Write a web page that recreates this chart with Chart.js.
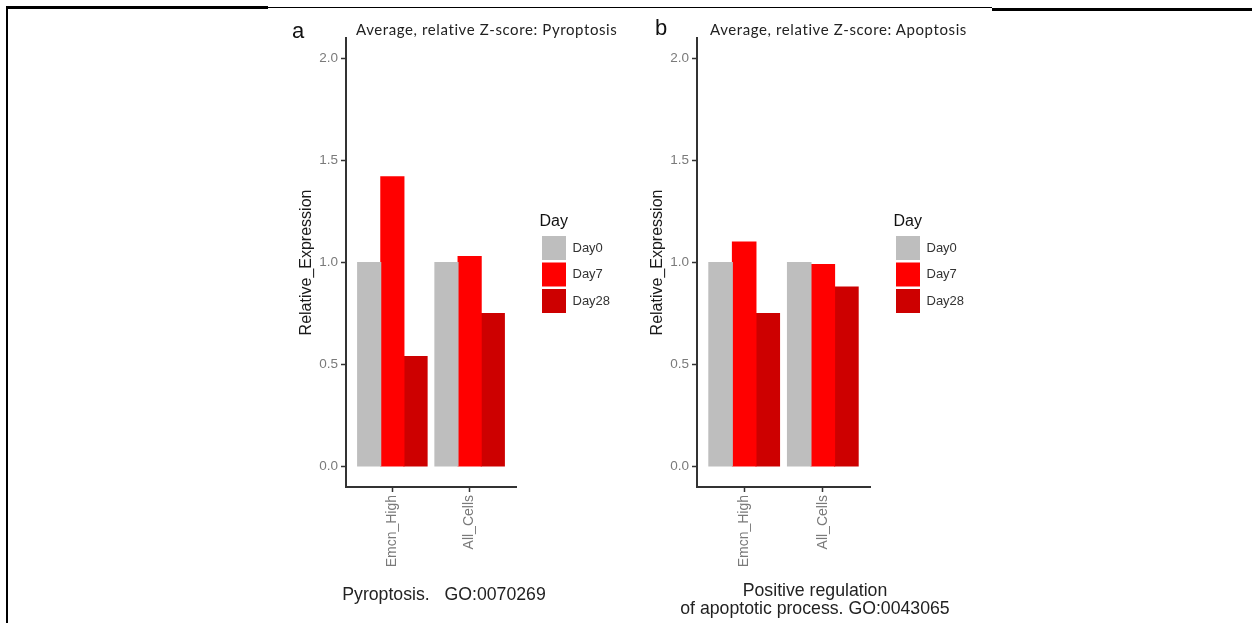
<!DOCTYPE html>
<html>
<head>
<meta charset="utf-8">
<script src="https://cdn.jsdelivr.net/npm/chart.js@4/dist/chart.umd.min.js"></script>
<style>
	body { margin: 0; background: #fff; }
	#page { position: relative; width: 1252px; height: 623px; overflow: hidden; background: #fff; }
	.line { position: absolute; background: #000; }
	.abs { position: absolute; white-space: pre; }
	.letter { font-family: 'Liberation Sans', Arial, sans-serif; font-size: 22px; line-height: 22px; color: #111; }
	.ttl { font-family: Lato, 'Open Sans', sans-serif; font-size: 15px; letter-spacing: 0.6px; line-height: 1; color: #222; }
	.cap { font-family: 'Liberation Sans', Arial, sans-serif; font-size: 17.7px; line-height: 18px; color: #222; text-align: center; }
	canvas { position: absolute; top: 0; }
</style>
</head>
<body>
<div id="page">
	<div class="line" style="left:6px; top:6px; width:2px; height:617px;"></div>
	<div class="line" style="left:6px; top:6px; width:262px; height:2.5px;"></div>
	<div class="line" style="left:268px; top:7px; width:724px; height:1px;"></div>
	<div class="line" style="left:992px; top:8px; width:260px; height:2.5px;"></div>

	<canvas id="chart_a" width="370" height="623" style="left:270px;"></canvas>
	<canvas id="chart_b" width="380" height="623" style="left:620px;"></canvas>

	<div class="abs letter" style="left:292px; top:20px;">a</div>
	<div class="abs letter" style="left:655px; top:17px;">b</div>
	<div class="abs ttl" style="left:356px; top:22px;">Average, relative Z-score: Pyroptosis</div>
	<div class="abs ttl" style="left:710px; top:22px;">Average, relative Z-score: Apoptosis</div>
	<div class="abs cap" style="left:294px; width:300px; top:585px;">Pyroptosis.   GO:0070269</div>
	<div class="abs cap" style="left:665px; width:300px; top:581px;">Positive regulation
of apoptotic process. GO:0043065</div>
</div>
<script>
// data
var categories = ['Emcn_High', 'All_Cells'];
var days = ['Day0', 'Day7', 'Day28'];
var dayColors = ['#bebebe', '#ff0000', '#cd0000'];

var pyroDay0 = [1.00, 1.00];
var pyroDay7 = [1.42, 1.03];
var pyroDay28 = [0.54, 0.75];

var apoDay0 = [1.00, 1.00];
var apoDay7 = [1.10, 0.99];
var apoDay28 = [0.75, 0.88];

var yTicks = [0, 0.5, 1, 1.5, 2];

Chart.defaults.font.family = "'Liberation Sans', Arial, sans-serif";

// puts the legend where ggplot has it, a bit away from the panel
var legendPlace = {
	id: 'legendPlace',
	afterLayout: function(chart, args, opts) {
		var lg = chart.legend;
		if (!lg) return;
		lg.left = opts.left;
		lg.width = 100;
		lg.right = opts.left + 100;
		lg.top = opts.top;
	}
};

function points(vals) {
	return vals.map(function(v, i) { return {x: i + 1, y: v}; });
}

function makeChart(id, d0, d7, d28, axisW, padRight, titleX, legendLeft) {
	var ctx = document.getElementById(id).getContext('2d');
	var series = [d0, d7, d28];
	return new Chart(ctx, {
		type: 'bar',
		data: {
			datasets: series.map(function(s, k) {
				return {label: days[k], data: points(s), backgroundColor: dayColors[k],
					borderWidth: 0, inflateAmount: 0.5, categoryPercentage: 0.9, barPercentage: 1};
			})
		},
		options: {
			responsive: false,
			animation: false,
			layout: {padding: {top: 38, right: padRight, bottom: 0, left: 0}},
			scales: {
				x: {
					type: 'linear', min: 0.4, max: 2.6, bounds: 'data', offset: false,
					afterBuildTicks: function(scale) {
						scale.ticks = categories.map(function(c, i) { return {value: i + 1}; });
					},
					afterFit: function(scale) { scale.height = 136; },
					ticks: {
						autoSkip: false, minRotation: 90, maxRotation: 90, padding: 3,
						font: {size: 14}, color: '#7a7a7a',
						callback: function(v) { return categories[v - 1]; }
					},
					grid: {display: true, offset: false, drawOnChartArea: false, drawTicks: true, tickLength: 5, tickColor: '#333', tickWidth: 1.5},
					border: {display: true, color: '#333', width: 2}
				},
				y: {
					min: -0.1, max: 2.1, bounds: 'data',
					afterBuildTicks: function(scale) {
						scale.ticks = yTicks.map(function(v) { return {value: v}; });
					},
					afterFit: function(scale) { scale.width = axisW; },
					ticks: {
						padding: 3, font: {size: 13.5}, color: '#7a7a7a',
						callback: function(v) { return Number(v).toFixed(1); }
					},
					title: {display: true, text: 'Relative_Expression', font: {size: 16}, color: '#1a1a1a',
						padding: {top: titleX, bottom: 0}},
					grid: {display: true, drawOnChartArea: false, drawTicks: true, tickLength: 5, tickColor: '#333', tickWidth: 1.5},
					border: {display: true, color: '#333', width: 2}
				}
			},
			plugins: {
				tooltip: {enabled: false},
				legend: {
					position: 'right', align: 'start', maxWidth: 60,
					labels: {boxWidth: 24, boxHeight: 24, padding: 2.5, font: {size: 13}, color: '#333'},
					title: {display: true, text: 'Day', position: 'start', font: {size: 16}, color: '#111',
						padding: {top: 0, bottom: 1}}
				},
				legendPlace: {left: legendLeft, top: 213.3}
			}
		},
		plugins: [legendPlace]
	});
}

var chart_a = makeChart('chart_a', pyroDay0, pyroDay7, pyroDay28, 76, 64, 27.4, 269.5);
var chart_b = makeChart('chart_b', apoDay0, apoDay7, apoDay28, 77, 70, 27.9, 273.5);
</script>
</body>
</html>
